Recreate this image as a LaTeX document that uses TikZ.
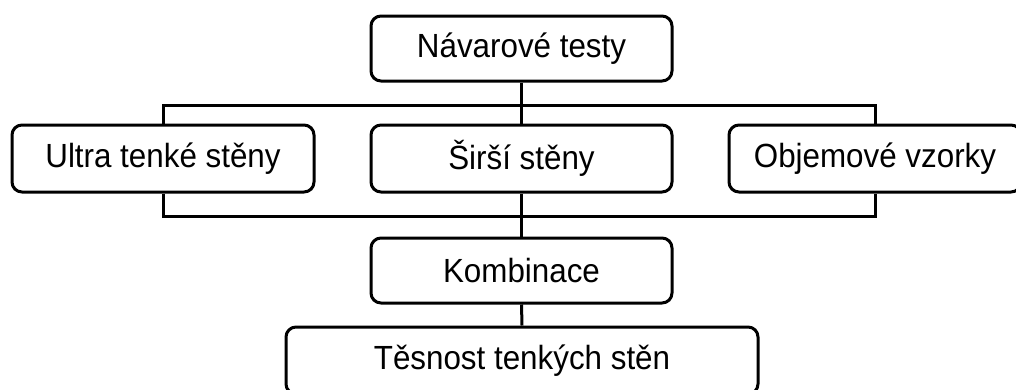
\documentclass[tikz,border=0pt]{standalone}
\usepackage{graphicx}
\usepackage{fontspec}
\setmainfont{Liberation Sans}
\newcommand\boxlbl[1]{\scalebox{0.936}[1]{#1}}
\begin{document}
\begin{tikzpicture}[x=1pt,y=-1pt,
  box/.style={draw=black, line width=3pt, rounded corners=10pt, rectangle, inner sep=0pt,
    font=\fontsize{33.5}{40}\selectfont, text=black},
  conn/.style={draw=black, line width=3pt, line join=miter}]
\useasboundingbox (0,0) rectangle (1016,389);
\clip (0,0) rectangle (1016,389);
\node[box, minimum width=301pt, minimum height=65pt] (top) at (521.5,48.5) {\boxlbl{Návarové testy}};
\node[box, minimum width=302pt, minimum height=67pt] (ultra) at (163,158.5) {\boxlbl{Ultra tenké stěny}};
\node[box, minimum width=301pt, minimum height=67pt] (sirsi) at (521.5,158.5) {\boxlbl{Širší stěny}};
\node[box, minimum width=292pt, minimum height=67pt] (obj) at (875,158.5) {\boxlbl{Objemové vzorky}};
\node[box, minimum width=301pt, minimum height=65pt] (komb) at (521.5,270.5) {\boxlbl{Kombinace}};
\node[box, minimum width=472pt, minimum height=67pt] (tes) at (522,360.5) {\boxlbl{Těsnost tenkých stěn}};
\coordinate (b1) at (521.5,105);
\coordinate (b2) at (521.5,216);
\draw[conn] (top.south) -- (b1) -- (sirsi.north);
\draw[conn] (ultra.north) |- (b1) -| (obj.north);
\draw[conn] (ultra.south) |- (b2) -| (obj.south);
\draw[conn] (sirsi.south) -- (b2) -- (komb.north);
\draw[conn] (komb.south) -- (tes.north);
\end{tikzpicture}
\end{document}
